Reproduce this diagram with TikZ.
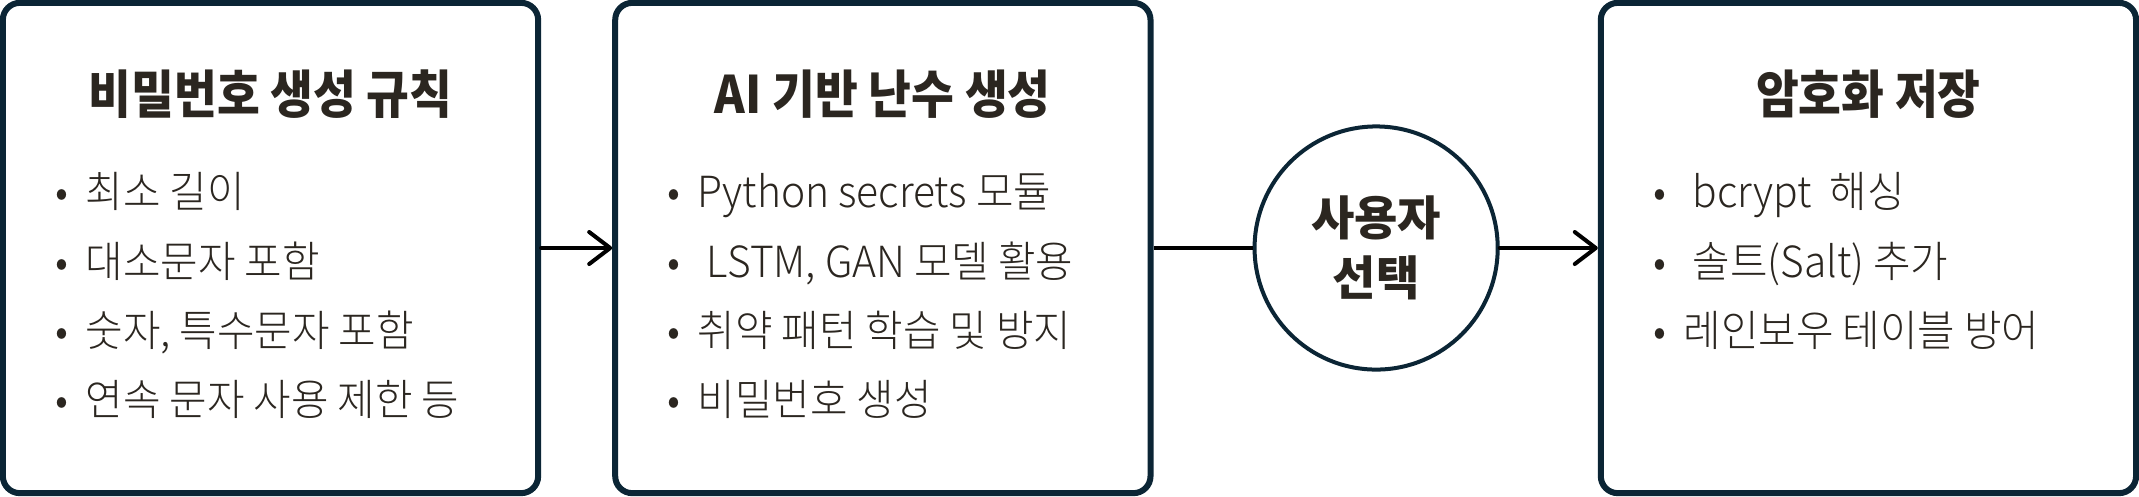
\documentclass[tikz,border=0pt]{standalone}
\usepackage{fontspec}
\usepackage{tikz}
\usetikzlibrary{arrows.meta, positioning}
\newfontfamily\bodyfont[FakeStretch=0.95]{Noto Sans CJK KR Light}
\newfontfamily\headfont[FakeStretch=0.9]{Noto Sans CJK KR}
\newfontfamily\markfont{Noto Sans CJK KR}
\definecolor{navy}{HTML}{0B2535}
\definecolor{ink}{HTML}{2B2620}

\begin{document}
\begin{tikzpicture}[x=0.01cm, y=-0.01cm, node distance=1cm,
    stagebox/.style = {rectangle, rounded corners=0.17cm, minimum width=5.35cm, minimum height=4.9cm, draw=navy, line width=0.06cm, fill=white},
    choice/.style = {circle, minimum size=2.43cm, inner sep=0pt, draw=navy, line width=0.04cm, fill=white, align=center, text=ink, font=\markfont\bfseries\fontsize{13.4}{17}\selectfont},
    title/.style = {anchor=base, inner sep=0pt, text=ink, font=\headfont\bfseries\fontsize{14.7}{17}\selectfont},
    item/.style = {anchor=base west, inner sep=0pt, text=ink, font=\bodyfont\fontsize{12.2}{14}\selectfont},
    arrow/.style = {line width=0.04cm, black, line cap=round, -{Straight Barb[length=0.21cm, width=0.32cm, line join=round, line cap=round]}},
    link/.style = {line width=0.04cm, black}]
    \useasboundingbox (0,0) rectangle (2139,496);

        % Nodes
        \node (rules) [stagebox] at (270.5,248) {};
        \node (airand) [stagebox, right=0.71cm of rules] {};
        \node (pick) [choice, right=0.99cm of airand] {사용자\\선택};
        \node (store) [stagebox, right=0.98cm of pick] {};

        % Box 1
        \node (rulestitle) [title] at ([yshift=1.34cm]rules.center) {비밀번호 생성 규칙};
        \node (rule1) [item] at ([xshift=0.55cm, yshift=0.40cm]rules.west) {\makebox[0.30cm][l]{•}최소 길이};
        \node (rule2) [item] at ([xshift=0.55cm, yshift=-0.29cm]rules.west) {\makebox[0.30cm][l]{•}대소문자 포함};
        \node (rule3) [item] at ([xshift=0.55cm, yshift=-0.98cm]rules.west) {\makebox[0.30cm][l]{•}숫자, 특수문자 포함};
        \node (rule4) [item] at ([xshift=0.55cm, yshift=-1.67cm]rules.west) {\makebox[0.30cm][l]{•}연속 문자 사용 제한 등};

        % Box 2
        \node (airandtitle) [title] at ([yshift=1.34cm]airand.center) {AI 기반 난수 생성};
        \node (airand1) [item] at ([xshift=0.55cm, yshift=0.40cm]airand.west) {\makebox[0.30cm][l]{•}Python secrets 모듈};
        \node (airand2) [item] at ([xshift=0.55cm, yshift=-0.29cm]airand.west) {\makebox[0.30cm][l]{•}\ LSTM, GAN 모델 활용};
        \node (airand3) [item] at ([xshift=0.55cm, yshift=-0.98cm]airand.west) {\makebox[0.30cm][l]{•}취약 패턴 학습 및 방지};
        \node (airand4) [item] at ([xshift=0.55cm, yshift=-1.67cm]airand.west) {\makebox[0.30cm][l]{•}비밀번호 생성};

        % Box 3
        \node (storetitle) [title] at ([yshift=1.34cm]store.center) {암호화 저장};
        \node (store1) [item] at ([xshift=0.55cm, yshift=0.40cm]store.west) {\makebox[0.30cm][l]{•}\ bcrypt\ \ 해싱};
        \node (store2) [item] at ([xshift=0.55cm, yshift=-0.29cm]store.west) {\makebox[0.30cm][l]{•}\ 솔트(Salt) 추가};
        \node (store3) [item] at ([xshift=0.55cm, yshift=-0.98cm]store.west) {\makebox[0.30cm][l]{•}레인보우 테이블 방어};

        % Arrows
        \draw [arrow] (rules) -- (airand);
        \draw [link] (airand) -- (pick);
        \draw [arrow] (pick) -- (store);
    \end{tikzpicture}
\end{document}
